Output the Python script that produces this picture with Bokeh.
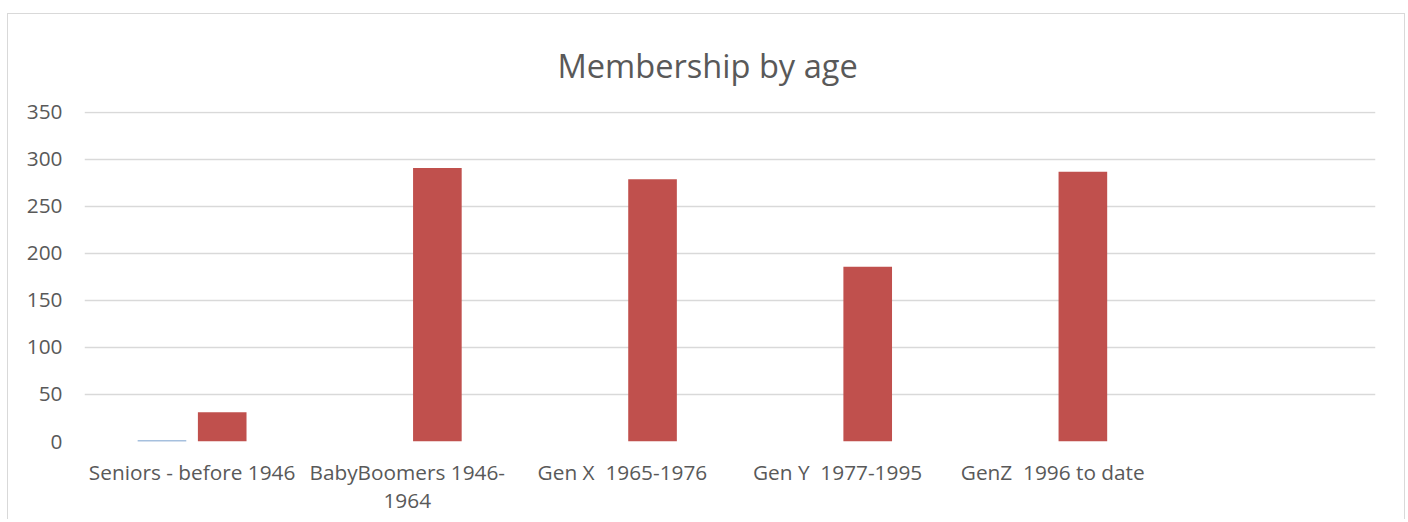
from bokeh.plotting import figure
from bokeh.models import FactorRange, Range1d, ColumnDataSource, SingleIntervalTicker
from bokeh.transform import dodge
from bokeh.embed import file_html
from bokeh.resources import INLINE

categories = ["Seniors - before 1946", "BabyBoomers 1946-\n1964", "Gen X\u00a0 1965-1976",
              "Gen Y\u00a0 1977-1995", "GenZ\u00a0 1996 to date", " "]
series1 = [1, 0, 0, 0, 0]
series2 = [31, 291, 279, 186, 287]
y_ticks_max = 350
title_text = "Membership by age"

FONT = "Open Sans"
TXT = "#595959"
GRID = "#d9d9d9"

src = ColumnDataSource(dict(cat=categories[:5], s1=series1, s2=series2))

p = figure(x_range=FactorRange(*categories, range_padding=0), y_range=Range1d(0, y_ticks_max + 1),
           frame_width=1291, frame_height=330, output_backend="svg", toolbar_location=None,
           min_border_left=76, min_border_right=29, min_border_top=97, min_border_bottom=78,
           title=title_text)
p.styles = {"border-top": "1px solid #d9d9d9", "border-left": "1px solid #d9d9d9",
            "border-right": "1px solid #d9d9d9", "transform": "translate(7px, 13px)"}

p.vbar(x=dodge("cat", -0.14, range=p.x_range), top="s1", width=0.226, source=src,
       fill_color="#4F81BD", line_color=None)
p.vbar(x=dodge("cat", 0.14, range=p.x_range), top="s2", width=0.226, source=src,
       fill_color="#C0504D", line_color=None)

p.title.align = "left"
p.title.offset = 473
p.title.standoff = 48
p.title.text_font = FONT
p.title.text_font_size = "32.6px"
p.title.text_font_style = "normal"
p.title.text_color = TXT

p.outline_line_color = None
p.xgrid.grid_line_color = None
p.ygrid.grid_line_color = GRID
p.ygrid.grid_line_width = 1.5
p.yaxis.ticker = SingleIntervalTicker(interval=50)
for ax in (p.xaxis, p.yaxis):
    ax.axis_line_color = None
    ax.major_tick_line_color = None
    ax.minor_tick_line_color = None
    ax.major_tick_out = 0
    ax.major_tick_in = 0
    ax.major_label_text_font = FONT
    ax.major_label_text_font_size = "20.8px"
    ax.major_label_text_color = TXT
p.yaxis.major_label_standoff = 18
p.xaxis.major_label_standoff = 16
p.xaxis.major_label_text_line_height = 1.0

open("out.html", "w").write(file_html(p, INLINE))
